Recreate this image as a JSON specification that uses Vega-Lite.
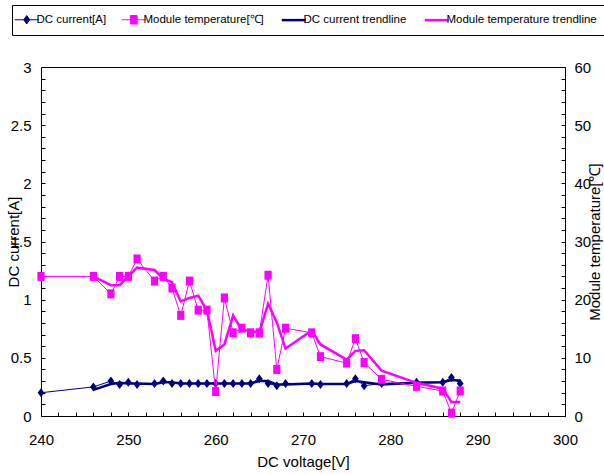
{
  "$schema": "https://vega.github.io/schema/vega-lite/v6.json",
  "width": 524,
  "height": 349,
  "autosize": {"type": "none"},
  "padding": {"left": 41, "top": 67, "right": 39, "bottom": 58},
  "background": "white",
  "config": {
    "view": {"stroke": "black", "strokeWidth": 1},
    "font": "Liberation Sans",
    "axis": {
      "domain": false, "tickColor": "black", "labelColor": "black", "titleColor": "black",
      "labelFont": "Liberation Sans", "titleFont": "Liberation Sans",
      "labelFontSize": 15, "titleFontSize": 15, "titleFontWeight": "normal",
      "grid": false, "tickSize": 4, "offset": -4, "labelFlush": false, "labelOverlap": false, "labelBound": false, "tickCount": 30,
      "zindex": 1
    }
  },
  "data": {
    "values": [
      {"V": 240, "value": 0.20, "series": "DC current[A]"},
      {"V": 246, "value": 0.25, "series": "DC current[A]"},
      {"V": 248, "value": 0.30, "series": "DC current[A]"},
      {"V": 249, "value": 0.27, "series": "DC current[A]"},
      {"V": 250, "value": 0.29, "series": "DC current[A]"},
      {"V": 251, "value": 0.27, "series": "DC current[A]"},
      {"V": 253, "value": 0.28, "series": "DC current[A]"},
      {"V": 254, "value": 0.30, "series": "DC current[A]"},
      {"V": 255, "value": 0.28, "series": "DC current[A]"},
      {"V": 256, "value": 0.28, "series": "DC current[A]"},
      {"V": 257, "value": 0.28, "series": "DC current[A]"},
      {"V": 258, "value": 0.28, "series": "DC current[A]"},
      {"V": 259, "value": 0.28, "series": "DC current[A]"},
      {"V": 260, "value": 0.28, "series": "DC current[A]"},
      {"V": 261, "value": 0.28, "series": "DC current[A]"},
      {"V": 262, "value": 0.28, "series": "DC current[A]"},
      {"V": 263, "value": 0.28, "series": "DC current[A]"},
      {"V": 264, "value": 0.28, "series": "DC current[A]"},
      {"V": 265, "value": 0.32, "series": "DC current[A]"},
      {"V": 266, "value": 0.28, "series": "DC current[A]"},
      {"V": 267, "value": 0.26, "series": "DC current[A]"},
      {"V": 268, "value": 0.28, "series": "DC current[A]"},
      {"V": 271, "value": 0.28, "series": "DC current[A]"},
      {"V": 272, "value": 0.27, "series": "DC current[A]"},
      {"V": 275, "value": 0.28, "series": "DC current[A]"},
      {"V": 276, "value": 0.32, "series": "DC current[A]"},
      {"V": 277, "value": 0.26, "series": "DC current[A]"},
      {"V": 279, "value": 0.28, "series": "DC current[A]"},
      {"V": 283, "value": 0.29, "series": "DC current[A]"},
      {"V": 286, "value": 0.29, "series": "DC current[A]"},
      {"V": 287, "value": 0.33, "series": "DC current[A]"},
      {"V": 288, "value": 0.28, "series": "DC current[A]"},

      {"V": 240, "value": 24.0, "series": "Module temperature[℃]"},
      {"V": 246, "value": 24.0, "series": "Module temperature[℃]"},
      {"V": 248, "value": 21.0, "series": "Module temperature[℃]"},
      {"V": 249, "value": 24.0, "series": "Module temperature[℃]"},
      {"V": 250, "value": 24.0, "series": "Module temperature[℃]"},
      {"V": 251, "value": 27.0, "series": "Module temperature[℃]"},
      {"V": 253, "value": 23.2, "series": "Module temperature[℃]"},
      {"V": 254, "value": 24.0, "series": "Module temperature[℃]"},
      {"V": 255, "value": 22.0, "series": "Module temperature[℃]"},
      {"V": 256, "value": 17.3, "series": "Module temperature[℃]"},
      {"V": 257, "value": 23.2, "series": "Module temperature[℃]"},
      {"V": 258, "value": 18.2, "series": "Module temperature[℃]"},
      {"V": 259, "value": 18.2, "series": "Module temperature[℃]"},
      {"V": 260, "value": 4.2, "series": "Module temperature[℃]"},
      {"V": 261, "value": 20.3, "series": "Module temperature[℃]"},
      {"V": 262, "value": 14.3, "series": "Module temperature[℃]"},
      {"V": 263, "value": 15.1, "series": "Module temperature[℃]"},
      {"V": 264, "value": 14.3, "series": "Module temperature[℃]"},
      {"V": 265, "value": 14.3, "series": "Module temperature[℃]"},
      {"V": 266, "value": 24.2, "series": "Module temperature[℃]"},
      {"V": 267, "value": 8.0, "series": "Module temperature[℃]"},
      {"V": 268, "value": 15.1, "series": "Module temperature[℃]"},
      {"V": 271, "value": 14.3, "series": "Module temperature[℃]"},
      {"V": 272, "value": 10.2, "series": "Module temperature[℃]"},
      {"V": 275, "value": 9.1, "series": "Module temperature[℃]"},
      {"V": 276, "value": 13.3, "series": "Module temperature[℃]"},
      {"V": 277, "value": 9.2, "series": "Module temperature[℃]"},
      {"V": 279, "value": 6.3, "series": "Module temperature[℃]"},
      {"V": 283, "value": 5.1, "series": "Module temperature[℃]"},
      {"V": 286, "value": 4.3, "series": "Module temperature[℃]"},
      {"V": 287, "value": 0.5, "series": "Module temperature[℃]"},
      {"V": 288, "value": 4.3, "series": "Module temperature[℃]"},

      {"V": 246, "value": 0.225, "series": "DC current trendline"},
      {"V": 248, "value": 0.275, "series": "DC current trendline"},
      {"V": 249, "value": 0.285, "series": "DC current trendline"},
      {"V": 250, "value": 0.28, "series": "DC current trendline"},
      {"V": 251, "value": 0.28, "series": "DC current trendline"},
      {"V": 253, "value": 0.275, "series": "DC current trendline"},
      {"V": 254, "value": 0.29, "series": "DC current trendline"},
      {"V": 255, "value": 0.29, "series": "DC current trendline"},
      {"V": 256, "value": 0.28, "series": "DC current trendline"},
      {"V": 257, "value": 0.28, "series": "DC current trendline"},
      {"V": 258, "value": 0.28, "series": "DC current trendline"},
      {"V": 259, "value": 0.28, "series": "DC current trendline"},
      {"V": 260, "value": 0.28, "series": "DC current trendline"},
      {"V": 261, "value": 0.28, "series": "DC current trendline"},
      {"V": 262, "value": 0.28, "series": "DC current trendline"},
      {"V": 263, "value": 0.28, "series": "DC current trendline"},
      {"V": 264, "value": 0.28, "series": "DC current trendline"},
      {"V": 265, "value": 0.30, "series": "DC current trendline"},
      {"V": 266, "value": 0.30, "series": "DC current trendline"},
      {"V": 267, "value": 0.27, "series": "DC current trendline"},
      {"V": 268, "value": 0.27, "series": "DC current trendline"},
      {"V": 271, "value": 0.28, "series": "DC current trendline"},
      {"V": 272, "value": 0.275, "series": "DC current trendline"},
      {"V": 275, "value": 0.275, "series": "DC current trendline"},
      {"V": 276, "value": 0.30, "series": "DC current trendline"},
      {"V": 277, "value": 0.29, "series": "DC current trendline"},
      {"V": 279, "value": 0.27, "series": "DC current trendline"},
      {"V": 283, "value": 0.285, "series": "DC current trendline"},
      {"V": 286, "value": 0.29, "series": "DC current trendline"},
      {"V": 287, "value": 0.31, "series": "DC current trendline"},
      {"V": 288, "value": 0.305, "series": "DC current trendline"},

      {"V": 246, "value": 24.0, "series": "Module temperature trendline"},
      {"V": 248, "value": 22.5, "series": "Module temperature trendline"},
      {"V": 249, "value": 22.5, "series": "Module temperature trendline"},
      {"V": 250, "value": 24.0, "series": "Module temperature trendline"},
      {"V": 251, "value": 25.5, "series": "Module temperature trendline"},
      {"V": 253, "value": 25.1, "series": "Module temperature trendline"},
      {"V": 254, "value": 23.6, "series": "Module temperature trendline"},
      {"V": 255, "value": 23.0, "series": "Module temperature trendline"},
      {"V": 256, "value": 19.7, "series": "Module temperature trendline"},
      {"V": 257, "value": 20.3, "series": "Module temperature trendline"},
      {"V": 258, "value": 20.7, "series": "Module temperature trendline"},
      {"V": 259, "value": 18.2, "series": "Module temperature trendline"},
      {"V": 260, "value": 11.2, "series": "Module temperature trendline"},
      {"V": 261, "value": 12.3, "series": "Module temperature trendline"},
      {"V": 262, "value": 17.3, "series": "Module temperature trendline"},
      {"V": 263, "value": 14.7, "series": "Module temperature trendline"},
      {"V": 264, "value": 14.7, "series": "Module temperature trendline"},
      {"V": 265, "value": 14.3, "series": "Module temperature trendline"},
      {"V": 266, "value": 19.3, "series": "Module temperature trendline"},
      {"V": 267, "value": 16.1, "series": "Module temperature trendline"},
      {"V": 268, "value": 11.6, "series": "Module temperature trendline"},
      {"V": 271, "value": 14.7, "series": "Module temperature trendline"},
      {"V": 272, "value": 12.3, "series": "Module temperature trendline"},
      {"V": 275, "value": 9.7, "series": "Module temperature trendline"},
      {"V": 276, "value": 11.2, "series": "Module temperature trendline"},
      {"V": 277, "value": 11.3, "series": "Module temperature trendline"},
      {"V": 279, "value": 7.8, "series": "Module temperature trendline"},
      {"V": 283, "value": 5.7, "series": "Module temperature trendline"},
      {"V": 286, "value": 4.7, "series": "Module temperature trendline"},
      {"V": 287, "value": 2.4, "series": "Module temperature trendline"},
      {"V": 288, "value": 2.4, "series": "Module temperature trendline"}
    ]
  },
  "encoding": {
    "x": {
      "field": "V", "type": "quantitative",
      "scale": {"domain": [240, 300], "nice": false, "zero": false},
      "axis": {
        "title": "DC voltage[V]", "labelPadding": 16,
        "labelExpr": "datum.value % 10 === 0 ? datum.label : ''",
        "titleY": 57, "titleBaseline": "bottom"
      }
    },
    "color": {
      "field": "series", "type": "nominal",
      "scale": {
        "domain": ["DC current[A]", "Module temperature[℃]", "DC current trendline", "Module temperature trendline"],
        "range": ["#000080", "#FF00FF", "#000080", "#FF00FF"]
      },
      "legend": {
        "title": null, "orient": "none", "legendX": -29, "legendY": -62,
        "direction": "horizontal", "columns": 4,
        "strokeColor": "black", "fillColor": "white", "padding": 9,
        "labelFont": "Liberation Sans", "labelFontSize": 11.5, "labelColor": "black",
        "symbolSize": 576, "labelOffset": 4, "columnPadding": 12,
        "encode": {
          "symbols": {
            "update": {
              "shape": {"signal": "datum.index === 0 ? 'M-1,0H1M0,-0.35L0.25,0L0,0.35L-0.25,0Z' : datum.index === 1 ? 'M-1,0H1M-0.28,-0.35H0.28V0.35H-0.28Z' : 'M-1,0H1'"},
              "strokeWidth": {"signal": "datum.index >= 2 ? 2.5 : 1"},
              "fill": {"signal": "datum.index % 2 === 0 ? '#000080' : '#FF00FF'"},
              "stroke": {"signal": "datum.index % 2 === 0 ? '#000080' : '#FF00FF'"},
              "size": {"value": 576},
              "opacity": {"value": 1},
              "fillOpacity": {"value": 1},
              "strokeOpacity": {"value": 1}
            }
          }
        }
      }
    }
  },
  "layer": [
    {
      "encoding": {
        "y": {
          "field": "value", "type": "quantitative",
          "scale": {"domain": [0, 3], "nice": false},
          "axis": {
            "orient": "left", "title": "DC current[A]", "labelPadding": 10,
            "labelExpr": "abs(datum.value * 2 - round(datum.value * 2)) < 0.000001 ? format(datum.value, '~g') : ''",
            "titleX": -24, "titleY": 174.5, "titleAngle": -90, "titleBaseline": "bottom", "titleAlign": "center"
          }
        }
      },
      "layer": [
        {"transform": [{"filter": "datum.series === 'DC current[A]'"}], "mark": {"type": "line", "strokeWidth": 1}},
        {"transform": [{"filter": "datum.series === 'DC current trendline'"}], "mark": {"type": "line", "strokeWidth": 2.5}},
        {"transform": [{"filter": "datum.series === 'DC current[A]'"}], "mark": {"type": "point", "shape": "M0,-1L0.75,0L0,1L-0.75,0Z", "filled": true, "size": 81, "opacity": 1}}
      ]
    },
    {
      "encoding": {
        "y": {
          "field": "value", "type": "quantitative",
          "scale": {"domain": [0, 60], "nice": false},
          "axis": {
            "orient": "right", "title": "Module temperature[℃]", "labelPadding": 9,
            "labelExpr": "datum.value % 10 === 0 ? datum.label : ''",
            "titleX": 41, "titleY": 174.5, "titleAngle": -90, "titleBaseline": "bottom", "titleAlign": "center"
          }
        }
      },
      "layer": [
        {"transform": [{"filter": "datum.series === 'Module temperature[℃]'"}], "mark": {"type": "line", "strokeWidth": 1}},
        {"transform": [{"filter": "datum.series === 'Module temperature trendline'"}], "mark": {"type": "line", "strokeWidth": 2.5}},
        {"transform": [{"filter": "datum.series === 'Module temperature[℃]'"}], "mark": {"type": "point", "shape": "M-0.8,-1H0.8V1H-0.8Z", "filled": true, "size": 81, "opacity": 1}}
      ]
    }
  ],
  "resolve": {"scale": {"y": "independent"}}
}
